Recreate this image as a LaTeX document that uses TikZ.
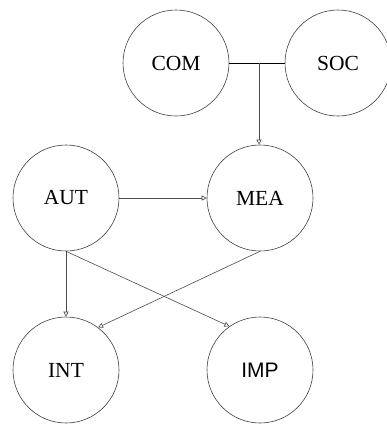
\documentclass[tikz,border=0pt]{standalone}
\usepackage{fontspec}
\setmainfont{Liberation Serif}
\newfontfamily\arialfont{Liberation Sans}
\usetikzlibrary{arrows.meta}
\begin{document}
\begin{tikzpicture}[x=1pt,y=-1pt,
  concept/.style={circle,draw=black!75,line width=0.6pt,minimum size=106pt,inner sep=0pt,
    font=\fontsize{21.5}{24}\selectfont},
  link/.style={draw=black!70,line width=0.6pt,-{Triangle[open,length=5pt,width=5pt]}}]
\useasboundingbox (0,0) rectangle (387,426);
\node[concept] (com) at (176,63) {COM};
\node[concept] (soc) at (338,63) {SOC};
\node[concept] (aut) at (66,198) {AUT};
\node[concept] (mea) at (260,198) {MEA};
\node[concept] (int) at (66,370) {INT};
\node[concept,font=\arialfont\fontsize{21}{24}\selectfont] (imp) at (260,370) {IMP};
\coordinate (j) at (259,63);
\draw[line width=0.8pt] (com) -- (soc);
\draw[link] (j) -- (j |- mea.north);
\draw[link] (aut) -- (mea);
\draw[link] (aut.south) -- (int.north);
\draw[link] (aut.south) -- (imp.125);
\draw[link] (mea.south) -- (int.53);
\end{tikzpicture}
\end{document}
